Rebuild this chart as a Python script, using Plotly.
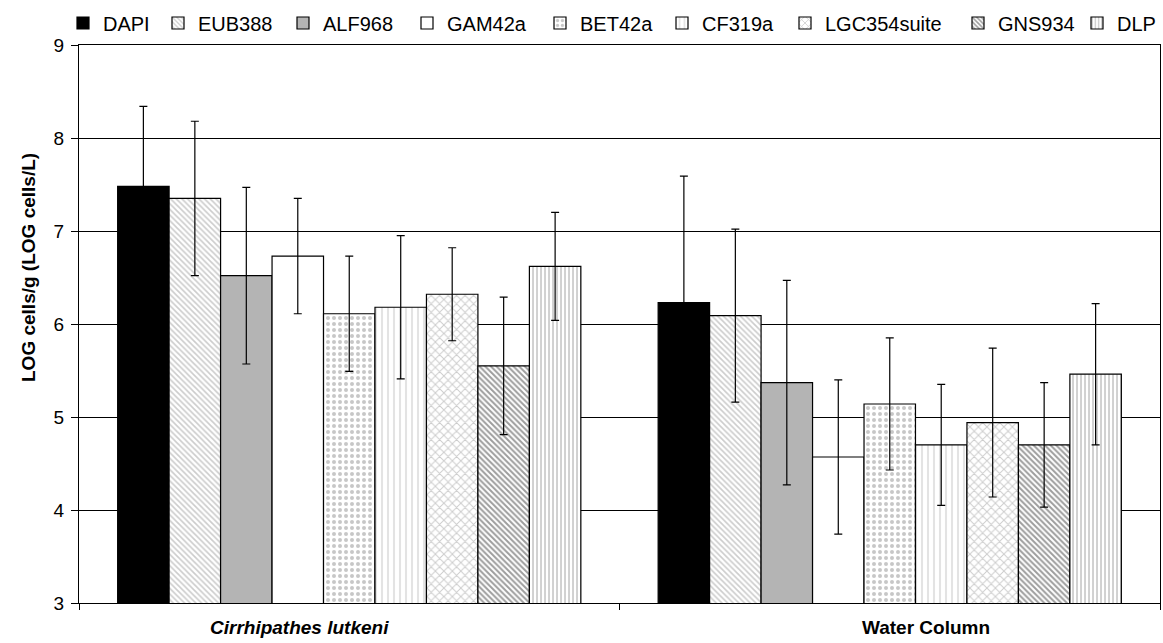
import plotly.graph_objects as go

categories = ["Cirrhipathes lutkeni", "Water Column"]
category_labels = ["<b><i>Cirrhipathes lutkeni</i></b>", "<b>Water Column</b>"]
series_names = ["DAPI", "EUB388", "ALF968", "GAM42a", "BET42a", "CF319a", "LGC354suite", "GNS934", "DLP"]
DAPI = [7.48, 6.23]
EUB388 = [7.35, 6.09]
ALF968 = [6.52, 5.37]
GAM42a = [6.73, 4.57]
BET42a = [6.11, 5.14]
CF319a = [6.18, 4.70]
LGC354suite = [6.32, 4.94]
GNS934 = [5.55, 4.70]
DLP = [6.62, 5.46]
values = [DAPI, EUB388, ALF968, GAM42a, BET42a, CF319a, LGC354suite, GNS934, DLP]

err_DAPI = [0.86, 1.36]
err_EUB388 = [0.83, 0.93]
err_ALF968 = [0.95, 1.10]
err_GAM42a = [0.62, 0.83]
err_BET42a = [0.62, 0.71]
err_CF319a = [0.77, 0.65]
err_LGC354suite = [0.50, 0.80]
err_GNS934 = [0.74, 0.67]
err_DLP = [0.58, 0.76]
errors = [err_DAPI, err_EUB388, err_ALF968, err_GAM42a, err_BET42a, err_CF319a,
          err_LGC354suite, err_GNS934, err_DLP]

# legend text start positions (px) measured on the reference
legend_text_px = [103, 198, 323, 447, 580, 702, 825, 998, 1117]

styles = [
    dict(color="#000000", pattern=dict(shape="")),
    dict(color="#ffffff", pattern=dict(shape="\\", fgcolor="#9a9a9a", size=4, solidity=0.4)),
    dict(color="#b4b4b4", pattern=dict(shape="")),
    dict(color="#ffffff", pattern=dict(shape="")),
    dict(color="#ffffff", pattern=dict(shape=".", fgcolor="#8f8f8f", size=6, solidity=0.35)),
    dict(color="#ffffff", pattern=dict(shape="|", fgcolor="#c8c8c8", size=6, solidity=0.35)),
    dict(color="#ffffff", pattern=dict(shape="x", fgcolor="#9a9a9a", size=6, solidity=0.3)),
    dict(color="#ffffff", pattern=dict(shape="\\", fgcolor="#3c3c3c", size=4, solidity=0.5)),
    dict(color="#ffffff", pattern=dict(shape="|", fgcolor="#9a9a9a", size=4, solidity=0.45)),
]

L, R, T, B = 79, 3, 45, 40
W, H = 1163, 643
pw = W - L - R
ph = H - T - B

fig = go.Figure()
legend_layout = {}
for i, (name, vals, errs, st) in enumerate(zip(series_names, values, errors, styles)):
    lname = "legend" if i == 0 else f"legend{i + 1}"
    fig.add_trace(go.Bar(
        name=name, x=categories, y=vals, legend=lname,
        marker=dict(color=st["color"], pattern=st["pattern"],
                    line=dict(color="#000000", width=1.2)),
        error_y=dict(type="data", array=errs, visible=True, color="#000000",
                     thickness=1.2, width=4),
    ))
    legend_layout[lname] = dict(
        x=(legend_text_px[i] - 40 - L) / pw, xanchor="left", xref="paper",
        y=1 - 23 / H, yref="container", yanchor="middle",
        orientation="h", font=dict(size=20), bgcolor="rgba(0,0,0,0)",
        itemwidth=30,
    )

fig.update_layout(
    width=W, height=H,
    barmode="group", bargap=0.143, bargroupgap=0,
    plot_bgcolor="#ffffff", paper_bgcolor="#ffffff",
    margin=dict(l=L, r=R, t=T, b=B, autoexpand=False),
    font=dict(family="Liberation Sans, Arial, sans-serif", size=19, color="#000000"),
    showlegend=True,
    **legend_layout,
)
fig.update_xaxes(
    type="category", tickson="boundaries", ticks="outside", ticklen=6,
    tickcolor="#000000", showline=True, linecolor="#000000", linewidth=1,
    mirror=True, showgrid=False, showticklabels=False, automargin=False,
)
fig.update_yaxes(
    range=[3, 9], dtick=1, ticks="outside", ticklen=7, tickcolor="#000000",
    showline=True, linecolor="#000000", linewidth=1, mirror=True,
    showgrid=True, gridcolor="#000000", gridwidth=1, zeroline=False,
    tickfont=dict(size=19), automargin=False, ticklabelstandoff=3,
)

# y axis title
fig.add_annotation(
    text="<b>LOG cells/g (LOG cells/L)</b>", textangle=-90,
    xref="paper", yref="paper", x=(28 - L) / pw, y=(H - B - 268) / ph,
    xanchor="center", yanchor="middle", showarrow=False, font=dict(size=19),
)
# category labels
label_px = [299, 926]
for lab, px in zip(category_labels, label_px):
    fig.add_annotation(
        text=lab, xref="paper", yref="paper", x=(px - L) / pw, y=-(627 - (H - B)) / ph,
        xanchor="center", yanchor="middle", showarrow=False, font=dict(size=19),
    )

fig.write_html(
    "out.html",
    config={"displayModeBar": False},
    post_script="document.body.style.margin='0';document.body.style.overflow='hidden';",
)
